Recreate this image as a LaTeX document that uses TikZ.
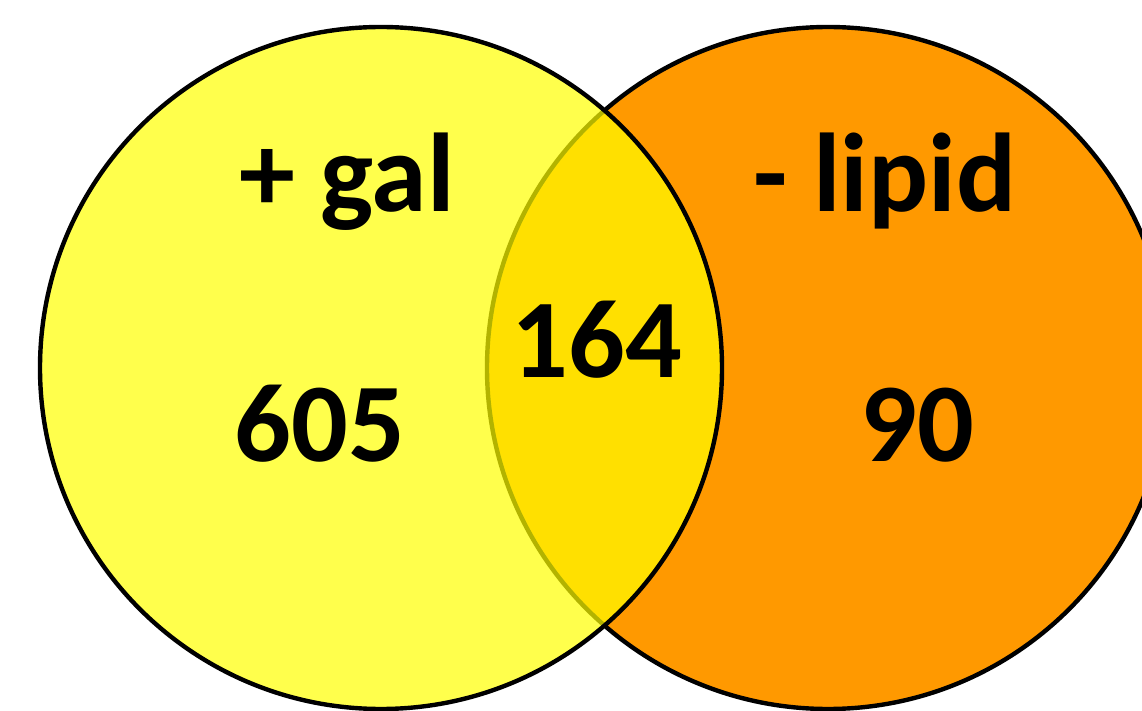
\documentclass[tikz,border=0pt]{standalone}
\usepackage{fontspec}
\setmainfont{Carlito}
\usepackage{xcolor}
\usepackage{tikz}
\usetikzlibrary{positioning}
\definecolor{galyellow}{HTML}{FFFF00}
\definecolor{lipidorange}{HTML}{FF9900}
\tikzset{setcircle/.style = {draw = black, line width = 2.2pt}}
\tikzset{count/.style = {draw = none, inner sep = 0, anchor = base, font = \fontsize{56}{62}\selectfont\bfseries}}

\begin{document}
\begin{tikzpicture}[x = 0.5pt, y = -0.5pt]
\useasboundingbox (0, 0) rectangle (1142, 711);
\fill [white] (0, 0) rectangle (1142, 711);
% right set first, left set on top (see-through)
\draw [setcircle, fill = lipidorange] (828, 368) circle [radius = 341];
\draw [setcircle, fill = galyellow, fill opacity = 0.7] (381, 368) circle [radius = 341];
\node [count] (gal) at (347, 212) {+ gal};
\node [count] (lipid) at (885, 212) {- lipid};
\node [count] (onlygal) at (320, 462) {605};
\node [count] (both) at (597, 378) {164};
\node [count] (onlylipid) at (917, 462) {90};
\end{tikzpicture}
\end{document}
